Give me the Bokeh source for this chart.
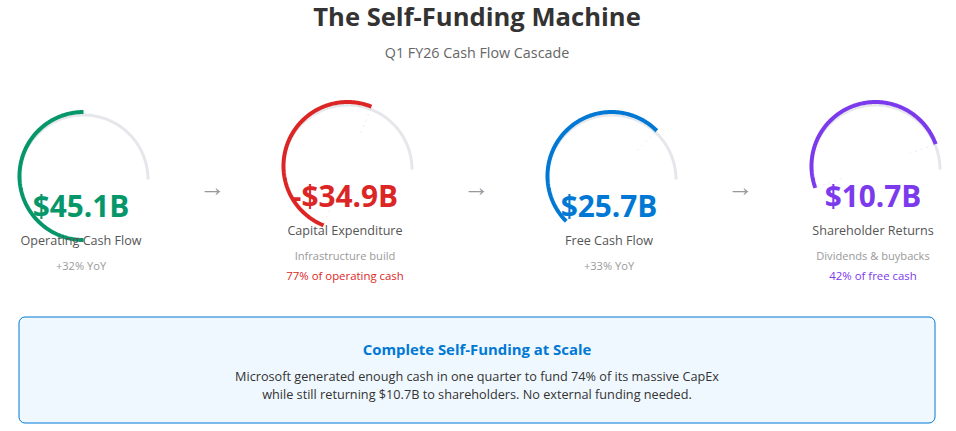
import math
from bokeh.plotting import figure
from bokeh.core.properties import value
from bokeh.embed import file_html
from bokeh.resources import INLINE

title = "The Self-Funding Machine"
subtitle = "Q1 FY26 Cash Flow Cascade"
values = ["$45.1B", "-$34.9B", "$25.7B", "$10.7B"]
labels = ["Operating Cash Flow", "Capital Expenditure", "Free Cash Flow", "Shareholder Returns"]
subs = ["+32% YoY", "Infrastructure build", "+33% YoY", "Dividends & buybacks"]
notes = ["", "77% of operating cash", "", "42% of free cash"]
colors = ["#059669", "#dc2626", "#0078d4", "#7c3aed"]
arc_rotation_deg = [0, 22, 45, 70]
box_heading = "Complete Self-Funding at Scale"
box_lines = ["Microsoft generated enough cash in one quarter to fund 74% of its massive CapEx",
             "while still returning $10.7B to shareholders. No external funding needed."]

W, H = 956, 431
FONT = "Open Sans"
p = figure(width=W, height=H, x_range=(0, W), y_range=(H, 0),
           output_backend="svg", toolbar_location=None, min_border=0)
p.axis.visible = False
p.grid.visible = False
p.outline_line_color = None
p.background_fill_color = "white"
p.border_fill_color = "white"


def txt(x, y, s, size, color, bold=False, font=FONT):
    p.text([x], [y], text=[s], text_font=value(font), text_font_size=f"{size}px", text_color=color,
           text_align="center", text_baseline="middle",
           text_font_style="bold" if bold else "normal")


txt(476.5, 15.5, title, 25.6, "#333333", True)
txt(476.5, 51.5, subtitle, 14.3, "#666666")

centers = [83, 347, 611, 875]
text_x = [80.5, 344.5, 608.5, 872.5]
tops = [179, 169, 179, 169]
R = 64.5
for i in range(4):
    cx, cy = centers[i], tops[i]
    xs, ys = [], []
    for k in range(91):
        a = math.radians(180 + 2 * k)
        xs.append(cx + R * math.cos(a))
        ys.append(cy + R * math.sin(a))
    p.line(xs, ys, line_color="#e5e7eb", line_width=3)
    rot = math.radians(arc_rotation_deg[i])
    ccy = cy - 3.5
    xs, ys = [], []
    for k in range(181):
        a = rot - math.radians(k)
        xs.append(cx + 64 * math.sin(a))
        ys.append(ccy - 64 * math.cos(a))
    p.line(xs, ys, line_color=colors[i], line_width=4)
    if i > 0:
        sx, sy = math.sin(rot), -math.cos(rot)
        p.line([cx + 62 * sx, cx + 32 * sx], [ccy + 62 * sy, ccy + 32 * sy],
               line_color=colors[i], line_alpha=0.13, line_width=1, line_dash="dotted")
        if i != 2:
            p.line([cx - 62 * sx, cx - 32 * sx], [ccy - 62 * sy, ccy - 32 * sy],
                   line_color=colors[i], line_alpha=0.13, line_width=1, line_dash="dotted")

    ty = 10 if i in (1, 3) else 0
    txt(text_x[i], 204.5 - ty, values[i], 29.8, colors[i], True)
    txt(text_x[i], 239.5 - ty, labels[i], 12.6, "#555555")
    txt(text_x[i], 264.5 - ty, subs[i], 11.1, "#999999")
    if notes[i]:
        txt(text_x[i], 274.5, notes[i], 11.4, colors[i])

for x in [212, 476, 740]:
    txt(x, 186, "\u2192", 26, "#999999", font="Liberation Sans")

p.quad(left=[18.5], right=[934.5], top=[316.5], bottom=[422.5], fill_color="#f0f8ff",
       line_color="#0078d4", line_width=1, border_radius=6)
txt(476.5, 348, box_heading, 14.9, "#0078d4", True)
txt(476.5, 375.5, box_lines[0], 12.7, "#333333")
txt(476.5, 393.5, box_lines[1], 12.7, "#333333")

open("out.html", "w").write(file_html(p, INLINE))
